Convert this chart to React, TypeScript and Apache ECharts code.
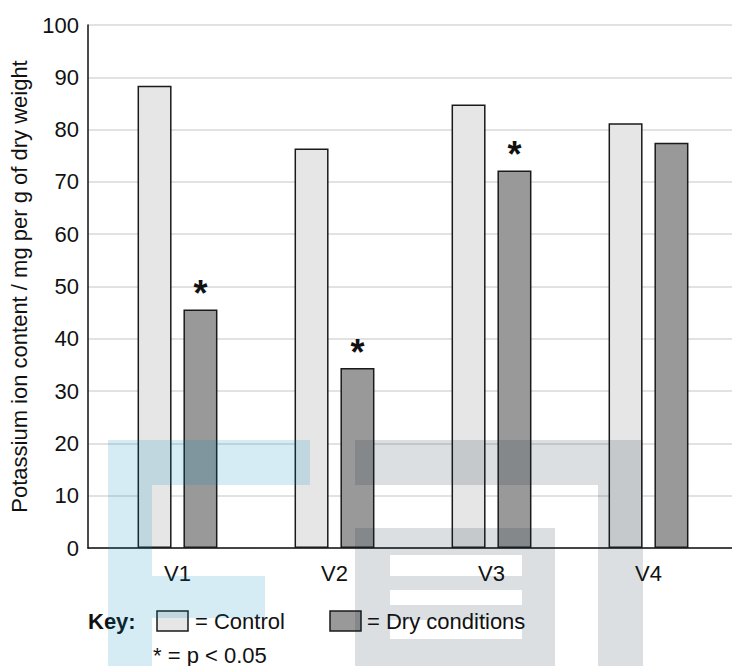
import React, { useEffect, useRef } from "react";
import * as echarts from "echarts";

// ---- data ----
const categories = ["V1", "V2", "V3", "V4"];
const controlValues = [88.4, 76.4, 84.8, 81.2];
const dryValues = [45.6, 34.4, 72.2, 77.5];
const significant = [true, true, true, false];
const yMin = 0;
const yMax = 100;
const yInterval = 10;
const yAxisTitle = "Potassium ion content / mg per g of dry weight";
const seriesNames = ["Control", "Dry conditions"];
const keyTitle = "Key:";
const keyNote = "* = p < 0.05";

// ---- styling / layout ----
const FONT = "'Liberation Sans', Arial, Helvetica, sans-serif";
const FS = 22;
const CONTROL_COLOR = "#e6e6e6";
const DRY_COLOR = "#999999";
const EDGE = "#1a1a1a";
const TEXT = "#111111";

// decorative watermark blocks seen in the reference [x, y, w, h]
const blueBlocks = [
  [108, 440, 202, 45],
  [108, 485, 44, 181],
  [152, 576, 113, 42],
];
const greyBlocks = [
  [355, 440, 288, 45],
  [598, 485, 45, 181],
  [355, 528, 35, 138],
  [522, 528, 33, 138],
  [390, 528, 132, 27],
  [390, 576, 132, 14],
  [390, 605, 132, 15],
  [390, 639, 132, 27],
];

export default function App() {
  const ref = useRef<HTMLDivElement>(null);

  useEffect(() => {
    document.body.style.margin = "0";
    const chart = echarts.init(ref.current!, null, { renderer: "svg" });

    const watermark = [
      ...blueBlocks.map(([x, y, w, h]) => ({
        type: "rect",
        z: 100,
        shape: { x, y, width: w, height: h },
        style: { fill: "rgb(0,136,192)", opacity: 0.16 },
        silent: true,
      })),
      ...greyBlocks.map(([x, y, w, h]) => ({
        type: "rect",
        z: 100,
        shape: { x, y, width: w, height: h },
        style: { fill: "rgb(15,40,60)", opacity: 0.15 },
        silent: true,
      })),
    ];

    const textStyle = (extra: any) => ({
      fontSize: FS,
      fontFamily: FONT,
      fill: TEXT,
      textVerticalAlign: "middle",
      verticalAlign: "middle",
      ...extra,
    });

    const legend = [
      { type: "text", x: 88, y: 621, style: textStyle({ text: keyTitle, fontWeight: "bold" }) },
      {
        type: "rect",
        shape: { x: 157, y: 611, width: 31, height: 20 },
        style: { fill: CONTROL_COLOR, stroke: EDGE, lineWidth: 1.5 },
      },
      { type: "text", x: 195, y: 621, style: textStyle({ text: "= " + seriesNames[0] }) },
      {
        type: "rect",
        shape: { x: 330, y: 611, width: 31, height: 20 },
        style: { fill: DRY_COLOR, stroke: EDGE, lineWidth: 1.5 },
      },
      { type: "text", x: 367, y: 621, style: textStyle({ text: "= " + seriesNames[1] }) },
      { type: "text", x: 153, y: 655, style: textStyle({ text: keyNote }) },
    ];

    const option: any = {
      animation: false,
      backgroundColor: "#ffffff",
      textStyle: { fontFamily: FONT },
      grid: [
        { left: 88, top: 25, right: 0, bottom: 118 },
        { left: 99, top: 25, width: 628, bottom: 118 },
      ],
      xAxis: [
        {
          gridIndex: 0,
          type: "value",
          min: 0,
          max: 1,
          axisLine: { show: true, onZero: false, lineStyle: { color: TEXT, width: 1.5 } },
          axisTick: { show: false },
          axisLabel: { show: false },
          splitLine: { show: false },
        },
        {
          gridIndex: 1,
          type: "category",
          data: categories,
          axisLine: { show: false },
          axisTick: { show: false },
          axisLabel: { fontSize: FS, color: TEXT, margin: 14, fontFamily: FONT },
          splitLine: { show: false },
        },
      ],
      yAxis: [
        {
          gridIndex: 0,
          type: "value",
          min: yMin,
          max: yMax,
          interval: yInterval,
          name: yAxisTitle,
          nameLocation: "middle",
          nameGap: 58,
          nameTextStyle: { fontSize: FS, color: TEXT, fontFamily: FONT },
          axisLine: { show: true, onZero: false, lineStyle: { color: TEXT, width: 1.5 } },
          axisTick: { show: false },
          axisLabel: { fontSize: FS, color: TEXT, margin: 9, fontFamily: FONT },
          splitLine: { show: true, lineStyle: { color: "#d9d9d9", width: 1.5 } },
        },
        { gridIndex: 1, type: "value", min: yMin, max: yMax, show: false },
      ],
      series: [
        {
          type: "bar",
          name: seriesNames[0],
          xAxisIndex: 1,
          yAxisIndex: 1,
          data: controlValues,
          barWidth: 34,
          barGap: "35%",
          itemStyle: { color: CONTROL_COLOR, borderColor: EDGE, borderWidth: 1.5 },
        },
        {
          type: "bar",
          name: seriesNames[1],
          xAxisIndex: 1,
          yAxisIndex: 1,
          data: dryValues,
          barWidth: 34,
          barGap: "35%",
          itemStyle: { color: DRY_COLOR, borderColor: EDGE, borderWidth: 1.5 },
          label: {
            show: true,
            position: "top",
            distance: -2,
            formatter: (p: any) => (significant[p.dataIndex] ? "*" : ""),
            fontSize: 36,
            fontWeight: "bold",
            color: TEXT,
            fontFamily: FONT,
          },
        },
      ],
      graphic: [...legend, ...watermark],
    };

    chart.setOption(option);
    return () => chart.dispose();
  }, []);

  return <div ref={ref} style={{ width: 732, height: 666 }} />;
}
